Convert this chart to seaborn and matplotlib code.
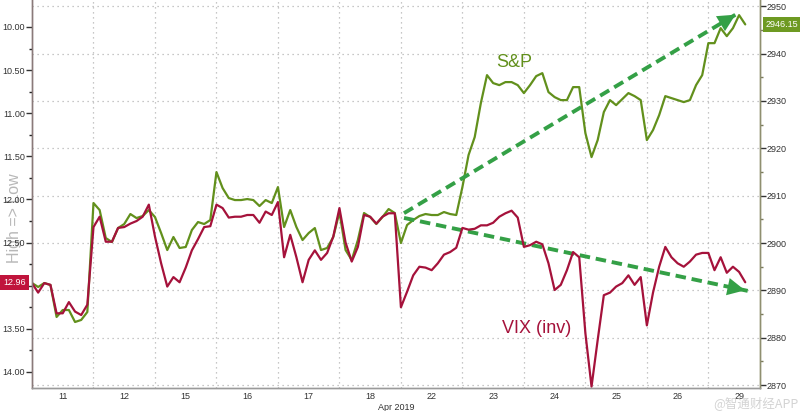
import numpy as np
import pandas as pd
import seaborn as sns
import matplotlib.pyplot as plt

# Trading days shown on the x axis (April 2019)
day_labels = ['11', '12', '15', '16', '17', '18', '22', '23', '24', '25', '26', '29']

vix = [
    12.97, 13.08, 12.97, 12.99, 13.32, 13.32, 13.19, 13.30, 13.34, 13.22,
    12.32, 12.20, 12.49, 12.49, 12.33, 12.32, 12.28, 12.25, 12.20, 12.06,
    12.43, 12.74, 13.01, 12.90, 12.96, 12.79, 12.59, 12.46, 12.32, 12.31,
    12.06, 12.10, 12.21, 12.20, 12.20, 12.18, 12.18, 12.27, 12.14, 12.18,
    12.03, 12.67, 12.41, 12.67, 12.96, 12.70, 12.59, 12.70, 12.62, 12.43,
    12.10, 12.50, 12.72, 12.55, 12.18, 12.20, 12.28, 12.20, 12.16, 12.16,
    13.25, 13.07, 12.88, 12.78, 12.79, 12.82, 12.74, 12.64, 12.61, 12.56,
    12.33, 12.35, 12.34, 12.30, 12.30, 12.27, 12.20, 12.16, 12.13, 12.21,
    12.55, 12.53, 12.49, 12.52, 12.74, 13.05, 12.99, 12.82, 12.61, 12.67,
    13.55, 14.17, 13.63, 13.11, 13.08, 13.01, 12.97, 12.88, 12.99, 12.90,
    13.46, 13.08, 12.78, 12.55, 12.67, 12.74, 12.78, 12.72, 12.64, 12.62,
    12.62, 12.82, 12.67, 12.85, 12.78, 12.84, 12.96,
]

# S&P 500, same sampling
spx = [
    2891.56, 2890.72, 2891.56, 2891.14, 2884.39, 2885.86, 2885.86, 2883.33, 2883.76, 2885.44,
    2908.44, 2906.96, 2901.05, 2900.21, 2903.16, 2904.01, 2906.12, 2905.27, 2905.70, 2906.96,
    2905.49, 2902.11, 2898.52, 2901.27, 2898.95, 2899.16, 2902.74, 2904.43, 2904.01, 2904.85,
    2914.98, 2911.60, 2909.49, 2909.07, 2909.07, 2909.28, 2909.07, 2907.81, 2909.07, 2908.44,
    2911.81, 2903.38, 2906.96, 2903.38, 2900.63, 2902.11, 2903.16, 2898.52, 2898.95, 2901.27,
    2906.54, 2898.52, 2896.41, 2900.63, 2906.33, 2905.49, 2904.01, 2905.49, 2907.17, 2906.33,
    2900.00, 2903.80, 2904.85, 2905.70, 2906.12, 2905.91, 2905.91, 2906.54, 2906.12, 2905.91,
    2911.81, 2918.57, 2922.36, 2929.54, 2935.44, 2933.76, 2933.33, 2933.97, 2933.97, 2933.33,
    2931.65, 2933.33, 2935.23, 2935.86, 2931.86, 2930.80, 2930.17, 2930.17, 2932.91, 2932.91,
    2923.21, 2918.14, 2921.73, 2927.64, 2930.17, 2929.11, 2930.38, 2931.65, 2931.01, 2930.17,
    2921.73, 2923.84, 2927.00, 2931.01, 2930.59, 2930.17, 2929.75, 2930.17, 2933.33, 2935.44,
    2942.19, 2942.19, 2945.36, 2943.67, 2945.36, 2948.10, 2946.15,
]

vix_last = 12.96
spx_last = 2946.15

# hand-drawn trend arrows (day position, S&P level)
trend_up = [(6.05, 2906.3), (11.48, 2948.5)]
trend_down = [(6.05, 2905.3), (11.64, 2889.9)]

green = '#62901c'
red = '#a5123b'
arrow_green = '#34a046'
grid_col = '#b5b5b5'

t = np.arange(len(vix)) * 0.1
df = pd.DataFrame({'t': t, 'vix': vix, 'spx': spx})

sns.set_theme(style='white')
plt.rcParams['font.family'] = ['Liberation Sans', 'DejaVu Sans']

fig = plt.figure(figsize=(8, 4.11), dpi=100)
ax = fig.add_axes([0.04, 0.056, 0.91, 0.944])   # S&P (right scale)
ax_v = ax.twinx()                               # VIX (left scale, inverted)
ax.yaxis.tick_right()
ax_v.yaxis.tick_left()

sns.lineplot(data=df, x='t', y='spx', ax=ax, color=green, lw=1.6)
sns.lineplot(data=df, x='t', y='vix', ax=ax_v, color=red, lw=1.6)

ax.set_xlim(0, 11.84)
ax.set_ylim(2869.4, 2951.3)
ax_v.set_ylim(14.186, 9.687)

# x axis: labels centred on each day, dotted grid at day boundaries
ax.set_xticks(np.arange(len(day_labels)) + 0.5)
ax.set_xticklabels(day_labels)
ax.set_xticks(np.arange(1, len(day_labels)), minor=True)
ax.tick_params(axis='x', which='both', length=0, labelsize=6.5, pad=3, colors='#333333')
ax.grid(axis='x', which='minor', ls=(0, (1, 3)), color=grid_col, lw=0.9)
ax.set_xlabel('Apr 2019', fontsize=6.5, color='#333333', labelpad=1)

# right axis (S&P)
ax.set_yticks(np.arange(2870, 2951, 10))
ax.set_yticks(np.arange(2875, 2950, 10), minor=True)
ax.grid(axis='y', which='major', ls=(0, (1, 3)), color=grid_col, lw=0.9)
ax.tick_params(axis='y', which='major', length=4, width=1, labelsize=6.5, pad=1,
               colors='#333333', right=True, left=False)
ax.tick_params(axis='y', which='minor', length=2, width=1, right=True, left=False,
               colors='#7a7a5a')
ax.set_ylabel('')

# left axis (VIX)
ax_v.set_yticks(np.arange(10.0, 14.01, 0.5))
ax_v.set_yticklabels([f'{v:.2f}' for v in np.arange(10.0, 14.01, 0.5)])
ax_v.set_yticks(np.arange(10.25, 14.2, 0.5), minor=True)
ax_v.tick_params(axis='y', which='major', length=4, width=1, labelsize=6.5, pad=1,
                 colors='#333333', left=True, right=False)
ax_v.tick_params(axis='y', which='minor', length=2, width=1, left=True, right=False)
for tl in ax_v.yaxis.get_ticklines(minor=False) + ax_v.yaxis.get_ticklines(minor=True):
    tl.set_color(red)
ax_v.set_ylabel('')
ax_v.grid(False)

for a in (ax, ax_v):
    a.spines['top'].set_visible(False)
    a.spines['left'].set_color('#8a7a7a')
    a.spines['right'].set_color('#8f8f70')
    a.spines['bottom'].set_color('#9a9a9a')
    for s in ('left', 'right', 'bottom'):
        a.spines[s].set_linewidth(1)

fig.text(0.018, 0.47, 'High => Low', rotation=90, fontsize=11.5, color='#b8b8b8',
         ha='center', va='center', zorder=0)

# dashed trend arrows
for p0, p1 in (trend_up, trend_down):
    ax.plot([p0[0], p1[0]], [p0[1], p1[1]], color=arrow_green, lw=2.8,
            ls=(0, (2.7, 1.5)), dash_capstyle='butt', zorder=10, clip_on=False)
    dx, dy = p1[0] - p0[0], p1[1] - p0[1]
    ax.annotate('', xy=p1, xytext=(p1[0] - 0.04 * dx, p1[1] - 0.04 * dy),
                arrowprops=dict(arrowstyle='-|>,head_length=0.9,head_width=0.45',
                                color=arrow_green, lw=0, mutation_scale=14),
                zorder=11, annotation_clip=False)

# VIX line drawn above the S&P axes
ax_v.set_zorder(ax.get_zorder() + 1)
ax_v.patch.set_visible(False)

# series labels
ax.text(7.85, 2938.2, 'S&P', color=green, fontsize=13, ha='center', va='center')
ax.text(8.2, 2882.0, 'VIX (inv)', color=red, fontsize=13, ha='center', va='center')

# last-value tags
ax_v.text(-0.008, vix_last, f'{vix_last:.2f}', transform=ax_v.get_yaxis_transform(),
          ha='right', va='center', fontsize=6.5, color='white', clip_on=False, zorder=20,
          bbox=dict(boxstyle='square,pad=0.35', fc='#c0143c', ec='none'))
ax.text(1.008, spx_last, f'{spx_last:.2f}', transform=ax.get_yaxis_transform(),
        ha='left', va='center', fontsize=6.5, color='white', clip_on=False, zorder=20,
        bbox=dict(boxstyle='square,pad=0.35', fc='#6e9a22', ec='none'))

fig.text(0.998, 0.003, '@智通财经APP', fontsize=9, color='#c8c8c8', alpha=0.8,
         ha='right', va='bottom', family=['Noto Sans CJK SC', 'DejaVu Sans'])

fig.savefig('out.png', dpi=100)
